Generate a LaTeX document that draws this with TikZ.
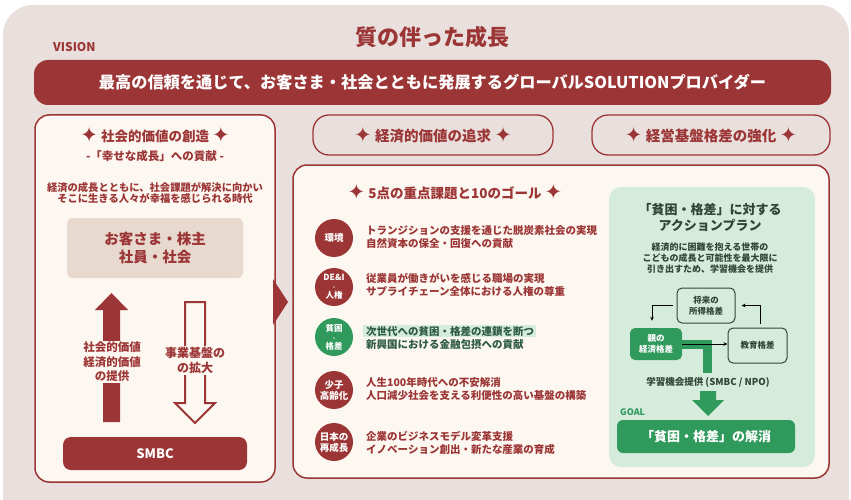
\documentclass[tikz,border=0pt]{standalone}
\usepackage{fontspec}
\setmainfont{Noto Sans CJK JP}
\newfontfamily\dv{DejaVu Sans}
\usetikzlibrary{arrows.meta,calc}
\definecolor{bgc}{HTML}{E9E0DD}
\definecolor{dred}{HTML}{9C3535}
\definecolor{cream}{HTML}{FCF7F0}
\definecolor{beige}{HTML}{E8D9CF}
\definecolor{gr}{HTML}{2F9A5B}
\definecolor{lgr}{HTML}{D5ECDD}
\definecolor{dgt}{HTML}{2E4538}
\definecolor{tgr}{HTML}{2D5A45}
\newcommand\fs[2]{\fontsize{#1}{#2}\selectfont}
\newcommand\dia{{\dv\fontsize{21}{21}\selectfont\raisebox{-1.5pt}{✦}}}
\begin{document}
\begin{tikzpicture}[x=1pt,y=-1pt,
  panel/.style={draw=dred,line width=1.5pt,fill=cream,rounded corners=14pt,inner sep=0pt},
  hbox/.style={draw=dred,line width=1.3pt,rounded corners=16pt,minimum height=40pt,text=dred,font=\fs{14.5}{16}\bfseries},
  circ/.style={circle,minimum size=38pt,inner sep=0pt,fill=dred,text=white,font=\fs{9.5}{11}\bfseries,align=center},
  item/.style={anchor=west,inner sep=0pt,text=dred,font=\fs{10.5}{13}\bfseries,align=left},
  obox/.style={draw=dgt,line width=1pt,rounded corners=5pt,align=center,font=\fs{8.5}{11}\bfseries,text=dgt,inner sep=0pt},
  arr/.style={-{Stealth[length=4pt,width=3.5pt]},line width=0.8pt,black},
  covertext/.style={fill=cream,inner sep=1pt,text=dred,align=center}]
\useasboundingbox (0,0) rectangle (851,500);
\fill[white] (0,0) rectangle (851,500);
\fill[bgc,rounded corners=30pt] (3,5) rectangle (849,540);

% title and vision
\node[text=dred,font=\fs{22}{24}\bfseries] (title) at (432,37) {質の伴った成長};
\node[anchor=west,inner sep=0pt,text=dred,font=\fs{12}{14}\bfseries] (vision) at (53,47) {VISION};
\node[fill=dred,rounded corners=14pt,minimum width=797pt,minimum height=45pt,text=white,font=\fs{16.2}{18}\bfseries] (banner) at (432.5,82.5) {最高の信頼を通じて、お客さま・社会とともに発展するグローバルSOLUTIONプロバイダー};

% left panel
\node[panel,minimum width=240pt,minimum height=367pt] (left) at (155,298.5) {};
\fill[dred] (273,279) -- (288,302) -- (273,325) -- cycle;
\node[text=dred,font=\fs{13.5}{15}\bfseries] (lh) at (155,135) {\dia\ 社会的価値の創造 \dia};
\node[text=dred,font=\fs{11.5}{13}\bfseries] (lsub) at (155,156) {-「幸せな成長」への貢献 -};
\node[text=dred,font=\fs{10.3}{11.5}\bfseries,align=center] (ldesc) at (155,193) {経済の成長とともに、社会課題が解決に向かい\\そこに生きる人々が幸福を感じられる時代};
\node[fill=beige,rounded corners=6pt,minimum width=176pt,minimum height=60pt,text=dred,font=\fs{14.5}{18}\bfseries,align=center] (cust) at (155,248) {お客さま・株主\\社員・社会};
\node[fill=dred,rounded corners=8pt,minimum width=184pt,minimum height=33pt,text=white,font=\fs{13}{15}\bfseries] (smbc) at (155,453.5) {SMBC};
% up arrow
\fill[dred] (103,422) -- (103,310) -- (95,310) -- (111.5,293) -- (128,310) -- (120,310) -- (120,422) -- cycle;
\node[covertext,font=\fs{11.5}{14.5}\bfseries] (upt) at (112,362) {社会的価値\\経済的価値\\の提供};
% down arrow
\draw[dred,line width=2pt,fill=cream,line join=miter] (185,302) -- (205,302) -- (205,403) -- (215,403) -- (195,423) -- (175,403) -- (185,403) -- cycle;
\node[covertext,font=\fs{12}{15}\bfseries] (dnt) at (195,360.5) {事業基盤の\\の拡大};

% header boxes
\node[hbox,minimum width=240pt] (mh) at (433,135) {\dia\ 経済的価値の追求 \dia};
\node[hbox,minimum width=238pt] (rh) at (711,135) {\dia\ 経営基盤格差の強化 \dia};

% middle panel
\node[panel,minimum width=536pt,minimum height=313pt] (mid) at (561,321.5) {};
\node[text=dred,font=\fs{13.5}{15}\bfseries] (goals) at (455,192) {\dia\ 5点の重点課題と10のゴール \dia};

\node[circ] (c1) at (334,238) {環境};
\node[item] (t1) at (366,237) {トランジションの支援を通じた脱炭素社会の実現\\自然資本の保全・回復への貢献};
\node[circ,font=\fs{8.5}{9}\bfseries] (c2) at (334,287) {DE\&I\\{\fs{5}{5}・}\\人権};
\node[item] (t2) at (366,285) {従業員が働きがいを感じる職場の実現\\サプライチェーン全体における人権の尊重};
\node[circ,fill=gr,font=\fs{8.5}{9}\bfseries] (c3) at (334,337) {貧困\\{\fs{5}{5}・}\\格差};
\fill[lgr] (363,325) rectangle (536,337);
\node[item,text=tgr] (t3) at (366,338) {次世代への貧困・格差の連鎖を断つ\\新興国における金融包摂への貢献};
\node[circ] (c4) at (334,390) {少子\\高齢化};
\node[item] (t4) at (366,389.5) {人生100年時代への不安解消\\人口減少社会を支える利便性の高い基盤の構築};
\node[circ] (c5) at (334,442) {日本の\\再成長};
\node[item] (t5) at (366,442.5) {企業のビジネスモデル変革支援\\イノベーション創出・新たな産業の育成};

% green panel
\node[fill=lgr,rounded corners=12pt,minimum width=206pt,minimum height=280pt] (gp) at (712,327) {};
\node[text=dgt,font=\fs{13}{15.5}\bfseries,align=center] (gt) at (710,217.5) {「貧困・格差」に対する\\アクションプラン};
\node[text=dgt,font=\fs{9}{11}\bfseries,align=center] (gd) at (710,258) {経済的に困難を抱える世帯の\\こどもの成長と可能性を最大限に\\引き出すため、学習機会を提供};
\node[obox,minimum width=58pt,minimum height=35pt] (fut) at (706,305.5) {将来の\\所得格差};
\node[fill=gr,rounded corners=5pt,minimum width=52pt,minimum height=32pt,inner sep=0pt,text=white,align=center,font=\fs{8.5}{11}\bfseries] (par) at (656,344) {親の\\経済格差};
\node[obox,minimum width=59pt,minimum height=35pt] (edu) at (757.5,345.5) {教育格差};
\draw[gr,line width=9pt] (par.east) -| (707,373);
\draw[arr] (par.east) -- (par.east -| edu.west);
\draw[arr] ($(fut.west)+(-4,0)$) -| ($(par.north)+(-4,-7)$);
\draw[arr] ($(edu.north)+(3,-4)$) |- ($(fut.east)+(6,0)$);
\node[text=dgt,font=\fs{9.5}{11}\bfseries] (learn) at (708,382) {学習機会提供 (SMBC / NPO)};
\fill[gr] (700,391) -- (716,391) -- (716,400) -- (724,400) -- (708,416) -- (692,400) -- (700,400) -- cycle;
\node[anchor=west,inner sep=0pt,text=gr,font=\fs{9}{10}\bfseries] (goallbl) at (620,412) {GOAL};
\node[fill=gr,rounded corners=6pt,minimum width=178pt,minimum height=33pt,text=white,font=\fs{13}{15}\bfseries] (goal) at (706,436.5) {「貧困・格差」の解消};
\end{tikzpicture}
\end{document}
